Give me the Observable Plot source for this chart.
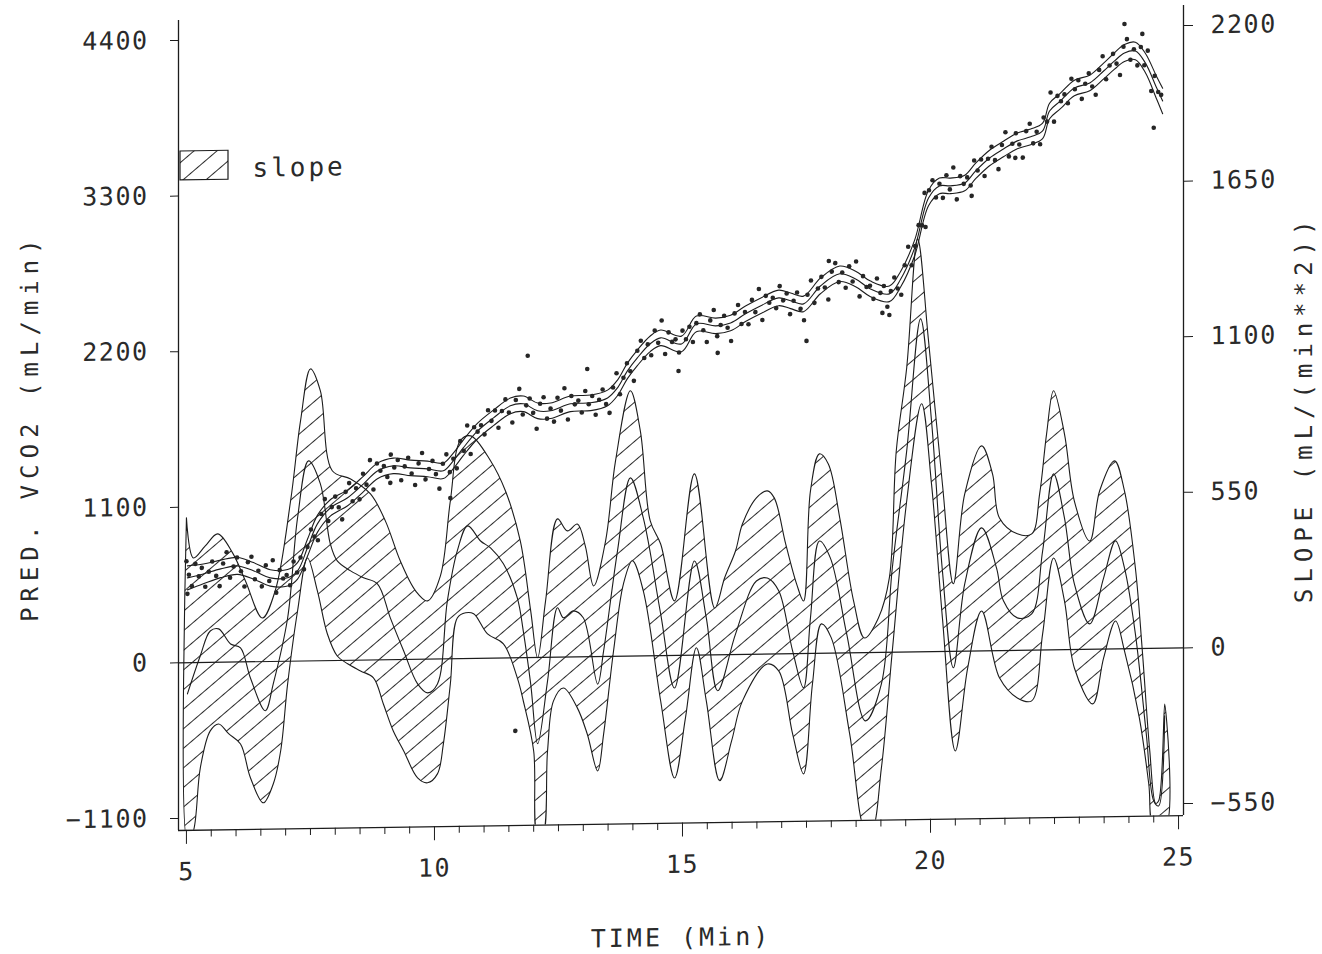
<!DOCTYPE html>
<html><head><meta charset="utf-8">
<script src="https://cdn.jsdelivr.net/npm/d3@7"></script>
<script src="https://cdn.jsdelivr.net/npm/@observablehq/plot@0.6"></script>
<style>
html,body{margin:0;padding:0;background:#fff;}
#chart{width:1322px;height:954px;overflow:hidden;position:relative;}
#chart svg{transform:skewY(-0.85deg);transform-origin:178px 0;}
</style></head><body><div id="chart"></div>
<script>
// ---------- data ----------
const timeDomain = [4.84, 25.1];
const vco2Domain = [-1185, 4541];
const timeTicksMajor = [5, 10, 15, 20, 25];
const timeTicksMinor = [5.5,6,6.5,7,7.5,8,8.5,9,9.5,10.5,11,11.5,12,12.5,13,13.5,14,14.5,15.5,16,16.5,17,17.5,18,18.5,19,19.5,20.5,21,21.5,22,22.5,23,23.5,24,24.5];
const vco2Ticks = [-1100, 0, 1100, 2200, 3300, 4400];
const slopeTicks = [-550, 0, 550, 1100, 1650, 2200];

// fitted VCO2 (mL/min): [time, value]
const vco2Fit = [[5.02,600],[5.34,626],[5.69,660],[6.03,679],[6.35,643],[6.69,591],[7.04,590],[7.24,638],[7.44,800],[7.64,968],[7.90,1079],[8.25,1149],[8.57,1246],[8.85,1336],[9.17,1370],[9.52,1354],[9.86,1345],[10.18,1330],[10.38,1399],[10.58,1490],[10.87,1608],[11.19,1699],[11.53,1782],[11.79,1795],[12.08,1744],[12.34,1743],[12.74,1790],[13.15,1795],[13.49,1828],[13.69,1898],[13.89,2017],[14.09,2108],[14.35,2206],[14.56,2247],[14.98,2202],[15.28,2342],[15.67,2326],[15.97,2345],[16.27,2408],[16.57,2462],[16.94,2517],[17.18,2495],[17.44,2472],[17.78,2597],[18.17,2681],[18.49,2643],[18.79,2571],[19.17,2534],[19.40,2638],[19.68,2856],[19.96,3208],[20.18,3292],[20.40,3291],[20.69,3310],[20.91,3394],[21.19,3484],[21.47,3546],[21.75,3602],[22.02,3629],[22.26,3670],[22.40,3810],[22.62,3880],[22.90,3970],[23.21,4004],[23.49,4087],[23.71,4157],[23.91,4212],[24.13,4225],[24.33,4140],[24.56,3961],[24.68,3869]];
// half width of the VCO2 confidence band at each fitted knot
const vco2Half = [85,70,62,60,58,58,58,58,60,60,58,56,
55,55,55,55,55,55,55,55,55,55,
55,55,55,55,55,55,55,55,55,55,
55,55,55,55,55,55,55,55,55,55,
55,55,55,55,55,55,55,55,55,55,
55,55,55,55,55,55,55,55,55,55,
55,55,
56,58,60,62,68,80,90];

// observed VCO2 breaths: [time, value]
const vco2Obs = [[5.0,718],[5.02,487],[5.05,622],[5.11,542],[5.18,698],[5.25,609],[5.31,669],[5.38,535],[5.45,641],[5.52,713],[5.6,611],[5.67,538],[5.74,698],[5.81,777],[5.88,596],[5.95,675],[6.02,739],[6.1,641],[6.17,533],[6.24,705],[6.31,742],[6.38,583],[6.45,643],[6.52,532],[6.6,680],[6.67,569],[6.74,716],[6.81,486],[6.88,645],[6.95,585],
[7.02,610],[7.09,537],[7.16,704],[7.23,626],[7.3,732],[7.37,648],[7.44,805],[7.51,929],[7.58,878],[7.65,852],[7.72,1037],[7.79,1142],[7.86,987],[7.93,1085],[8.0,1159],[8.07,1083],[8.14,997],[8.21,1191],[8.28,1253],[8.35,1124],[8.42,1216],[8.49,1137],[8.56,1318],[8.63,1240],[8.7,1413],[8.77,1205],[8.84,1388],[8.91,1337],[8.98,1370],
[9.05,1292],[9.11,1250],[9.12,1450],[9.19,1359],[9.26,1411],[9.33,1268],[9.4,1365],[9.47,1426],[9.54,1314],[9.61,1232],[9.68,1385],[9.75,1458],[9.82,1271],[9.89,1344],[9.96,1401],[10.03,1307],[10.1,1204],[10.17,1380],[10.24,1446],[10.31,1320],[10.32,1137],[10.38,1414],[10.45,1346],[10.52,1538],[10.59,1469],[10.66,1648],[10.73,1446],[10.8,1635],[10.87,1603],[10.94,1648],
[11.01,1583],[11.08,1753],[11.15,1678],[11.22,1751],[11.29,1628],[11.36,1746],[11.43,1828],[11.5,1735],[11.57,1664],[11.63,-516],[11.64,1823],[11.71,1901],[11.78,1720],[11.85,1784],[11.88,2134],[11.92,1832],[11.99,1730],[12.06,1617],[12.13,1794],[12.2,1839],[12.27,1688],[12.34,1758],[12.41,1666],[12.48,1834],[12.55,1743],[12.62,1901],[12.69,1679],[12.76,1845],[12.83,1786],[12.9,1812],[12.97,1728],
[13.04,1879],[13.08,2035],[13.11,1785],[13.18,1843],[13.25,1710],[13.32,1816],[13.39,1888],[13.46,1785],[13.53,1722],[13.6,1901],[13.67,2001],[13.74,1853],[13.81,1969],[13.88,2071],[13.95,2014],[14.02,1946],[14.09,2158],[14.16,2229],[14.23,2106],[14.3,2202],[14.37,2125],[14.44,2299],[14.51,2212],[14.58,2370],[14.65,2132],[14.72,2285],[14.79,2217],[14.86,2235],[14.92,2011],[14.93,2142],
[15.0,2296],[15.07,2234],[15.14,2322],[15.21,2214],[15.28,2347],[15.35,2409],[15.42,2296],[15.49,2213],[15.56,2365],[15.63,2438],[15.7,2253],[15.71,2135],[15.77,2332],[15.84,2397],[15.91,2311],[15.98,2217],[16.05,2412],[16.12,2471],[16.19,2336],[16.26,2421],[16.33,2334],[16.4,2506],[16.47,2419],[16.54,2582],[16.61,2363],[16.68,2533],[16.75,2484],[16.82,2519],[16.89,2445],[16.96,2600],
[17.03,2499],[17.1,2547],[17.17,2401],[17.24,2495],[17.31,2553],[17.38,2437],[17.45,2356],[17.5,2210],[17.52,2536],[17.59,2637],[17.66,2478],[17.73,2579],[17.8,2661],[17.87,2586],[17.94,2501],[17.95,2773],[18.01,2697],[18.08,2757],[18.15,2622],[18.22,2690],[18.29,2582],[18.36,2733],[18.43,2625],[18.5,2766],[18.57,2519],[18.64,2662],[18.71,2585],[18.78,2593],[18.85,2500],[18.92,2644],[18.99,2542],
[19.03,2400],[19.06,2590],[19.13,2443],[19.17,2385],[19.2,2553],[19.27,2649],[19.34,2571],[19.41,2526],[19.48,2735],[19.55,2865],[19.62,2734],[19.69,2869],[19.76,3017],[19.83,3015],[19.88,3244],[19.9,3003],[19.97,3262],
[20.04,3333],[20.11,3210],[20.18,3307],[20.25,3207],[20.32,3366],[20.39,3266],[20.46,3420],[20.53,3195],[20.6,3359],[20.67,3304],[20.74,3349],[20.81,3291],[20.83,3218],[20.88,3468],[20.95,3397],
[21.02,3474],[21.09,3357],[21.16,3479],[21.23,3563],[21.3,3468],[21.37,3404],[21.44,3574],[21.51,3664],[21.58,3493],[21.65,3582],[21.71,3482],[21.72,3656],[21.79,3576],[21.86,3483],[21.93,3670],
[22.0,3722],[22.07,3583],[22.14,3665],[22.21,3576],[22.28,3765],[22.35,3735],[22.42,3941],[22.49,3734],[22.56,3916],[22.63,3878],[22.7,3926],[22.77,3863],[22.84,4036],[22.91,3961],[22.98,4024],
[23.05,3892],[23.12,3999],[23.19,4072],[23.26,3979],[23.33,3920],[23.4,4095],[23.47,4191],[23.54,4028],[23.61,4125],[23.68,4207],[23.75,4138],[23.82,4057],[23.89,4256],[23.91,4417],[23.96,4310],
[24.03,4164],[24.1,4238],[24.17,4123],[24.24,4253],[24.27,4345],[24.31,4123],[24.38,4226],[24.45,3941],[24.5,3680],[24.52,4047],[24.59,3933],[24.65,3912]];

// slope (mL/min^2): upper bound, estimate, lower bound as [time, slope]
const slopeUpper = [[5.00,512],[5.14,370],[5.38,412],[5.63,454],[5.93,386],[6.19,286],[6.53,154],[6.79,250],[7.10,567],[7.30,849],[7.50,1032],[7.70,954],[7.94,671],[8.31,641],[8.71,587],[9.01,491],[9.31,349],[9.62,242],[9.86,206],[10.12,294],[10.32,558],[10.52,770],[10.73,787],[11.13,698],[11.43,591],[11.73,413],[11.94,165],[12.08,-1],[12.24,200],[12.48,489],[12.68,446],[12.88,470],[13.04,392],[13.21,250],[13.45,409],[13.65,691],[13.95,938],[14.15,796],[14.35,477],[14.56,395],[14.84,193],[15.24,641],[15.65,166],[15.85,272],[16.07,367],[16.21,462],[16.49,553],[16.71,577],[16.85,552],[17.08,389],[17.30,247],[17.44,186],[17.58,575],[17.76,705],[17.94,669],[18.17,478],[18.45,183],[18.67,52],[18.95,122],[19.17,263],[19.31,712],[19.52,1005],[19.74,1460],[19.96,1099],[20.24,592],[20.46,239],[20.69,556],[21.03,725],[21.25,625],[21.39,469],[21.75,412],[22.04,411],[22.20,552],[22.34,764],[22.48,916],[22.70,763],[22.90,525],[23.21,383],[23.41,560],[23.71,665],[23.91,558],[24.13,285],[24.27,-8],[24.42,-362],[24.54,-548],[24.60,-539],[24.72,-197]];
const slopeMid = [[5.02,-110],[5.28,24],[5.48,111],[5.65,118],[5.89,64],[6.09,50],[6.29,-57],[6.59,-174],[6.75,-79],[7.04,153],[7.24,506],[7.46,707],[7.70,625],[7.90,413],[8.04,352],[8.31,316],[8.57,291],[8.85,269],[9.11,148],[9.38,30],[9.66,-87],[9.86,-119],[10.06,-88],[10.26,205],[10.46,381],[10.67,469],[10.93,415],[11.13,390],[11.39,333],[11.67,212],[11.79,95],[11.94,-93],[12.08,-305],[12.28,-83],[12.48,175],[12.60,139],[12.80,163],[13.00,138],[13.29,-97],[13.41,20],[13.69,373],[13.95,630],[14.21,488],[14.56,148],[14.84,-115],[15.24,333],[15.48,131],[15.71,-127],[16.07,73],[16.49,259],[16.71,269],[16.94,223],[17.22,10],[17.44,-121],[17.58,126],[17.76,397],[17.98,337],[18.31,67],[18.69,-241],[19.01,-111],[19.23,298],[19.52,711],[19.80,1177],[20.02,816],[20.24,285],[20.46,-58],[20.69,238],[21.03,435],[21.33,293],[21.47,176],[21.75,115],[22.04,128],[22.26,350],[22.48,622],[22.70,466],[22.90,232],[23.21,90],[23.49,252],[23.73,382],[23.91,286],[24.13,52],[24.35,-302],[24.50,-539],[24.60,-557],[24.72,-239]];
const slopeLower = [[5.02,-630],[5.14,-595],[5.28,-372],[5.48,-242],[5.65,-218],[5.85,-253],[6.09,-290],[6.29,-410],[6.55,-499],[6.75,-433],[6.90,-316],[7.04,-80],[7.24,177],[7.44,364],[7.64,247],[7.84,95],[8.04,16],[8.25,-12],[8.51,-38],[8.77,-63],[8.97,-156],[9.17,-252],[9.38,-323],[9.66,-419],[9.86,-437],[10.06,-406],[10.18,-300],[10.32,-89],[10.46,144],[10.63,162],[10.79,158],[11.07,86],[11.39,50],[11.67,-71],[11.79,-152],[12.00,-330],[12.08,-630],[12.18,-630],[12.28,-330],[12.40,-154],[12.60,-109],[12.88,-180],[13.08,-273],[13.29,-404],[13.41,-274],[13.61,19],[13.81,256],[13.99,337],[14.21,230],[14.56,-160],[14.84,-433],[15.06,-221],[15.28,26],[15.48,-162],[15.75,-445],[15.99,-305],[16.21,-164],[16.71,-35],[16.94,-60],[17.22,-283],[17.44,-425],[17.62,-108],[17.80,104],[18.00,54],[18.37,-286],[18.69,-630],[18.81,-630],[19.01,-408],[19.23,5],[19.52,534],[19.82,877],[20.02,593],[20.24,119],[20.50,-352],[20.75,-59],[21.03,141],[21.39,-96],[21.75,-168],[22.04,-179],[22.26,57],[22.48,325],[22.70,173],[22.90,-65],[23.27,-193],[23.49,-31],[23.73,99],[23.91,-7],[24.21,-245],[24.40,-479],[24.50,-630],[24.74,-630]];

// ---------- tables ----------
const fit = vco2Fit.map(([t, v], i) => ({t, v, lo: v - vco2Half[i], hi: v + vco2Half[i]}));
const obs = vco2Obs.map(([t, v]) => ({t, v}));
// slope shares the y scale: 1 slope unit = 2 VCO2 units (right axis)
const toY = ([t, s]) => ({t, y: s * 2});
const band = [...slopeUpper, ...slopeLower.slice().reverse(), slopeUpper[0]].map(toY);
const mid = slopeMid.map(toY);

const fmt = d => d < 0 ? "\u2212" + Math.abs(d) : String(d);
const ink = "#1c1c1c";

const chart = Plot.plot({
  width: 1322, height: 954,
  marginTop: 20, marginBottom: 124, marginLeft: 178, marginRight: 139,
  x: {domain: timeDomain},
  y: {domain: vco2Domain},
  style: {background: "white", color: "#2a2a2a", fontFamily: "'DejaVu Sans Mono', monospace", fontSize: "25px", overflow: "visible"},
  marks: [
    Plot.line(band, {x: "t", y: "y", curve: "catmull-rom", fill: "url(#hatch)", stroke: ink, strokeWidth: 1.1, clip: true}),
    Plot.line(mid, {x: "t", y: "y", curve: "catmull-rom", stroke: ink, strokeWidth: 1.1, clip: true}),
    Plot.ruleY([0], {stroke: ink, strokeWidth: 1.2}),
    Plot.line(fit, {x: "t", y: "hi", curve: "catmull-rom", stroke: ink, strokeWidth: 1.1}),
    Plot.line(fit, {x: "t", y: "lo", curve: "catmull-rom", stroke: ink, strokeWidth: 1.1}),
    Plot.line(fit, {x: "t", y: "v", curve: "catmull-rom", stroke: ink, strokeWidth: 1.1}),
    Plot.dot(obs, {x: "t", y: "v", r: 2.3, fill: "#262626"}),
    Plot.ruleX([timeDomain[0]], {stroke: ink, strokeWidth: 1.3}),
    Plot.ruleX([timeDomain[1]], {stroke: ink, strokeWidth: 1.3}),
    Plot.ruleY([vco2Domain[0]], {stroke: ink, strokeWidth: 1.3}),
    Plot.axisY({anchor: "left", ticks: vco2Ticks, tickSize: 8, tickPadding: 22, tickFormat: fmt, label: null, stroke: ink}),
    Plot.axisY({anchor: "right", ticks: slopeTicks.map(s => s * 2), tickSize: 9, tickPadding: 18, tickFormat: d => fmt(d / 2), label: null, stroke: ink}),
    Plot.axisX({ticks: timeTicksMajor, tickSize: 14, tickPadding: 18, tickFormat: fmt, label: null, stroke: ink}),
    Plot.axisX({ticks: timeTicksMinor, tickSize: 7, tickFormat: () => "", label: null, stroke: ink}),
    Plot.text(["PRED. VCO2 (mL/min)"], {text: d => d, frameAnchor: "left", dx: -148, rotate: -90, textAnchor: "middle", lineAnchor: "middle", fontSize: 24}),
    Plot.text(["SLOPE (mL/(min**2))"], {text: d => d, frameAnchor: "right", dx: 121, rotate: -90, textAnchor: "middle", lineAnchor: "middle", fontSize: 24}),
    Plot.text(["TIME (Min)"], {text: d => d, frameAnchor: "bottom", dy: 115, textAnchor: "middle", lineAnchor: "middle", fontSize: 25}),
    Plot.text(["slope"], {text: d => d, frameAnchor: "top-left", dx: 74, dy: 149, textAnchor: "start", lineAnchor: "middle", fontSize: 26})
  ]
});

const svg = d3.select(chart);
const defs = svg.insert("defs", ":first-child");
const pat = defs.append("pattern").attr("id", "hatch").attr("patternUnits", "userSpaceOnUse")
  .attr("width", 15).attr("height", 15).attr("patternTransform", "rotate(-40)");
pat.append("line").attr("x1", 0).attr("y1", 0.5).attr("x2", 15).attr("y2", 0.5)
  .attr("stroke", "#2a2a2a").attr("stroke-width", 1);

// legend swatch
svg.append("rect").attr("x", 180).attr("y", 151).attr("width", 48).attr("height", 29)
  .attr("fill", "url(#hatch)").attr("stroke", ink).attr("stroke-width", 1.2);

svg.selectAll("text").attr("letter-spacing", 1.5);
svg.selectAll("text").each(function () {
  const s = this.textContent;
  if (s === "PRED. VCO2 (mL/min)" || s === "SLOPE (mL/(min**2))") d3.select(this).attr("letter-spacing", 6);
  else if (s === "TIME (Min)") d3.select(this).attr("letter-spacing", 3);
  else if (s === "slope") d3.select(this).attr("letter-spacing", 3);
});

document.getElementById("chart").append(chart);
</script>
</body></html>
